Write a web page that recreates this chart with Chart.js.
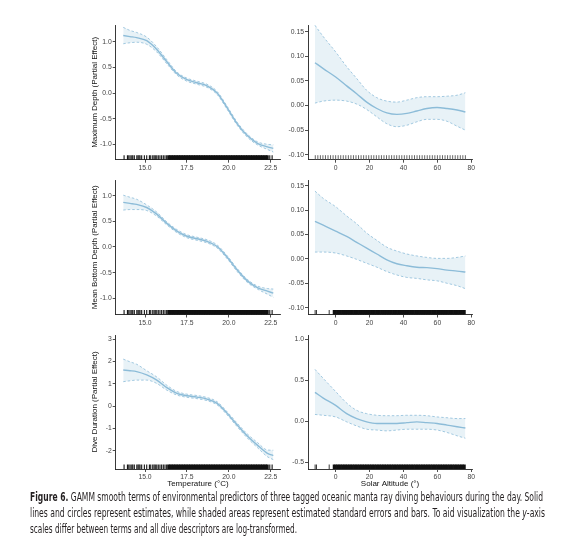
<!DOCTYPE html>
<html><head><meta charset="utf-8">
<script src="https://cdn.jsdelivr.net/npm/chart.js@4.4.1/dist/chart.umd.min.js"></script>
<style>
html,body{margin:0;padding:0;background:#fff;width:564px;height:547px;overflow:hidden;position:relative;}
canvas{position:absolute;}
.cap{position:absolute;left:30px;white-space:nowrap;font-family:"Liberation Sans Narrow","DejaVu Sans Condensed","Liberation Sans",sans-serif;font-size:11.5px;line-height:14px;color:#231f20;transform-origin:0 0;}
</style></head><body>
<canvas id="p1"></canvas><canvas id="p2"></canvas>
<canvas id="p3"></canvas><canvas id="p4"></canvas>
<canvas id="p5"></canvas><canvas id="p6"></canvas>
<div class="cap" id="l1" style="top:490px"><b>Figure 6.</b> GAMM smooth terms of environmental predictors of three tagged oceanic manta ray diving behaviours during the day. Solid</div>
<div class="cap" id="l2" style="top:506px">lines and circles represent estimates, while shaded areas represent estimated standard errors and bars. To aid visualization the <i>y</i>-axis</div>
<div class="cap" id="l3" style="top:522px">scales differ between terms and all dive descriptors are log-transformed.</div>
<script>
// ---------- data ----------
const temperature = [13.7, 14.1, 14.5, 15.1, 15.7, 16.3, 16.9, 17.5, 18.1, 18.7, 19.3, 19.9, 20.5, 21.1, 21.7, 22.3, 22.65];
const maxDepthTempFit   = [1.12, 1.10, 1.08, 1.02, 0.85, 0.61, 0.38, 0.26, 0.20, 0.14, 0.00, -0.29, -0.60, -0.83, -0.98, -1.05, -1.08];
const maxDepthTempUpper = [1.28, 1.22, 1.18, 1.09, 0.90, 0.65, 0.41, 0.29, 0.23, 0.17, 0.03, -0.26, -0.57, -0.80, -0.95, -1.00, -1.01];
const maxDepthTempLower = [0.96, 0.98, 0.99, 0.95, 0.80, 0.57, 0.35, 0.23, 0.17, 0.11, -0.03, -0.32, -0.63, -0.86, -1.01, -1.10, -1.15];
const bottomDepthTempFit   = [0.87, 0.85, 0.83, 0.77, 0.64, 0.46, 0.31, 0.21, 0.16, 0.11, 0.01, -0.20, -0.45, -0.66, -0.79, -0.86, -0.90];
const bottomDepthTempUpper = [1.01, 0.97, 0.93, 0.82, 0.68, 0.49, 0.34, 0.24, 0.19, 0.14, 0.04, -0.17, -0.42, -0.63, -0.76, -0.81, -0.82];
const bottomDepthTempLower = [0.72, 0.73, 0.73, 0.71, 0.60, 0.43, 0.28, 0.18, 0.13, 0.08, -0.02, -0.23, -0.48, -0.69, -0.82, -0.92, -0.98];
const durationTempFit   = [1.61, 1.58, 1.54, 1.39, 1.16, 0.82, 0.57, 0.46, 0.40, 0.31, 0.12, -0.33, -0.85, -1.34, -1.75, -2.12, -2.22];
const durationTempUpper = [2.10, 1.98, 1.87, 1.58, 1.30, 0.93, 0.65, 0.53, 0.47, 0.38, 0.19, -0.26, -0.77, -1.25, -1.63, -1.97, -1.98];
const durationTempLower = [1.09, 1.13, 1.16, 1.16, 1.01, 0.71, 0.49, 0.39, 0.33, 0.24, 0.05, -0.40, -0.93, -1.43, -1.86, -2.27, -2.40];

const solarAltitude = [-12.2, -7.3, 0, 6.5, 12.4, 18.3, 24.3, 30.2, 36.1, 42, 47.9, 53.8, 59.8, 65.7, 71.6, 76.5];
const maxDepthAltFit   = [0.087, 0.075, 0.058, 0.040, 0.024, 0.007, -0.006, -0.015, -0.018, -0.016, -0.011, -0.006, -0.004, -0.006, -0.009, -0.013];
const maxDepthAltUpper = [0.163, 0.140, 0.109, 0.079, 0.055, 0.031, 0.016, 0.009, 0.007, 0.011, 0.016, 0.018, 0.018, 0.019, 0.021, 0.026];
const maxDepthAltLower = [0.005, 0.009, 0.011, 0.009, 0.003, -0.008, -0.023, -0.037, -0.043, -0.040, -0.033, -0.028, -0.028, -0.032, -0.042, -0.050];
const bottomDepthAltFit   = [0.077, 0.069, 0.057, 0.046, 0.034, 0.022, 0.010, -0.002, -0.010, -0.014, -0.017, -0.018, -0.020, -0.023, -0.025, -0.027];
const bottomDepthAltUpper = [0.139, 0.124, 0.107, 0.088, 0.072, 0.053, 0.038, 0.024, 0.016, 0.010, 0.006, 0.003, 0.001, 0.001, 0.003, 0.006];
const bottomDepthAltLower = [0.014, 0.014, 0.012, 0.006, -0.001, -0.009, -0.017, -0.026, -0.033, -0.038, -0.040, -0.043, -0.045, -0.050, -0.055, -0.061];
const durationAltFit   = [0.35, 0.28, 0.19, 0.09, 0.03, -0.01, -0.03, -0.03, -0.03, -0.02, -0.01, -0.02, -0.03, -0.05, -0.07, -0.085];
const durationAltUpper = [0.63, 0.52, 0.36, 0.22, 0.13, 0.09, 0.07, 0.065, 0.065, 0.07, 0.07, 0.065, 0.05, 0.04, 0.03, 0.03];
const durationAltLower = [0.08, 0.07, 0.05, -0.01, -0.06, -0.10, -0.11, -0.12, -0.11, -0.10, -0.10, -0.10, -0.11, -0.14, -0.18, -0.21];

// rug observations
const temperatureRugSparse = [13.75, 13.95, 14.03, 14.11, 14.21, 14.27, 14.36, 14.51, 14.58, 14.64, 14.7, 14.8, 14.96, 15.1, 15.26, 15.34, 15.46, 15.54, 15.61, 15.7, 15.79, 15.89, 15.99, 16.09, 16.19, 16.29, 22.44, 22.58];
const temperatureRugDense = [16.4, 16.5, 16.6, 16.7, 16.8, 16.9, 17.0, 17.1, 17.2, 17.3, 17.4, 17.5, 17.6, 17.7, 17.8, 17.9, 18.0, 18.1, 18.2, 18.3, 18.4, 18.5, 18.6, 18.7, 18.8, 18.9, 19.0, 19.1, 19.2, 19.3,
  19.4, 19.5, 19.6, 19.7, 19.8, 19.9, 20.0, 20.1, 20.2, 20.3, 20.4, 20.5, 20.6, 20.7, 20.8, 20.9, 21.0, 21.1, 21.2, 21.3, 21.4, 21.5, 21.6, 21.7, 21.8, 21.9, 22.0, 22.1, 22.2, 22.3];
const solarAltitudeRugMaxDepth = [-12, -10.5, -9, -7.5, -6, -4.5, -3, -1.5, 0, 1.5, 3, 4.5, 6, 7.5, 9, 10.5, 12, 13.5, 15, 16.5, 18, 19.5, 21, 22.5, 24, 25.5, 27, 28.5, 30, 31.5,
  33, 34.5, 36, 37.5, 39, 40.5, 42, 43.5, 45, 46.5, 48, 49.5, 51, 52.5, 54, 55.5, 57, 58.5, 60, 61.5, 63, 64.5, 66, 67.5, 69, 70.5, 72, 73.5, 75, 76.5];
const solarAltitudeRugSparse = [-12.1, -11.3, -3.8];
const solarAltitudeRugDense = [-1, 0, 1, 2, 3, 4, 5, 6, 7, 8, 9, 10, 11, 12, 13, 14, 15, 16, 17, 18, 19, 20, 21, 22, 23, 24, 25, 26, 27, 28, 29, 30, 31, 32, 33, 34, 35,
  36, 37, 38, 39, 40, 41, 42, 43, 44, 45, 46, 47, 48, 49, 50, 51, 52, 53, 54, 55, 56, 57, 58, 59, 60, 61, 62, 63, 64, 65, 66, 67, 68, 69, 70, 71, 72, 73, 74, 75, 76];

// axis ticks
const temperatureTicks = [15.0, 17.5, 20.0, 22.5];
const temperatureTickLabels = ["15.0", "17.5", "20.0", "22.5"];
const altitudeTicks = [0, 20, 40, 60, 80];
const altitudeTickLabels = ["0", "20", "40", "60", "80"];
const depthTicks = [-1.0, -0.5, 0.0, 0.5, 1.0];
const depthTickLabels = ["-1.0", "-0.5", "0.0", "0.5", "1.0"];
const durationTicks = [-2, -1, 0, 1, 2, 3];
const durationTickLabels = ["-2", "-1", "0", "1", "2", "3"];
const smallTicks = [-0.10, -0.05, 0.00, 0.05, 0.10, 0.15];
const smallTickLabels = ["-0.10", "-0.05", "0.00", "0.05", "0.10", "0.15"];
const durAltTicks = [-0.5, 0.0, 0.5, 1.0];
const durAltTickLabels = ["-0.5", "0.0", "0.5", "1.0"];

const yTitles = ["Maximum Depth (Partial Effect)", "Mean Bottom Depth (Partial Effect)", "Dive Duration (Partial Effect)"];
const xTitles = ["Temperature (\u00B0C)", "Solar Altitude (\u00B0)"];

// ---------- styling / layout ----------
const LINE = '#8dbcd9';
const FILL = 'rgba(141,188,217,0.2)';
const AXIS = '#222';
const TICKTXT = '#444';
const FONT = '"Liberation Sans Narrow","Liberation Sans",Arial,sans-serif';

const cols = [{cL: 56, pL: 115.7, pR: 280, cR: 292}, {cL: 282, pL: 308, pR: 472, cR: 486}];
const rows = [{cT: 15, pT: 25, pB: 159.7, cB: 176}, {cT: 172, pT: 180, pB: 314.5, cB: 330}, {cT: 327, pT: 335, pB: 469, cB: 492}];

function pts(xs, ys) { return ys.map((v, i) => ({x: xs[i], y: v})); }

function rugSet(values, yMin, color, width) {
  return {type: 'scatter', data: values.map(v => ({x: v, y: yMin})), pointStyle: 'line', pointRotation: 90, pointRadius: 4.5,
    pointBorderColor: color, pointBorderWidth: width, borderColor: color, borderWidth: width, backgroundColor: color, clip: 0};
}

function makePanel(id, col, row, cfg) {
  const c = cols[col], r = rows[row];
  const cv = document.getElementById(id);
  const W = c.cR - c.cL, H = r.cB - r.cT;
  cv.style.left = c.cL + 'px'; cv.style.top = r.cT + 'px';
  cv.width = W; cv.height = H;
  cv.style.width = W + 'px'; cv.style.height = H + 'px';
  const tickFont = {family: FONT, size: 6.8};
  const titleFont = {family: FONT, size: 8};
  const datasets = [
    {data: pts(cfg.xs, cfg.upper), borderColor: LINE, borderWidth: 0.8, borderDash: [2.5, 2], backgroundColor: FILL, fill: '+1', pointRadius: 0, cubicInterpolationMode: 'monotone'},
    {data: pts(cfg.xs, cfg.lower), borderColor: LINE, borderWidth: 0.8, borderDash: [2.5, 2], fill: false, pointRadius: 0, cubicInterpolationMode: 'monotone'},
    {data: pts(cfg.xs, cfg.fit), borderColor: LINE, borderWidth: 1.4, fill: false, pointRadius: 0, cubicInterpolationMode: 'monotone'}
  ];
  cfg.rugs.forEach(rg => datasets.push(rugSet(rg.values, cfg.yMin, rg.color, rg.width)));
  new Chart(cv, {
    type: 'line',
    data: {datasets},
    options: {
      responsive: false, animation: false,
      layout: {padding: {left: 0, top: r.pT - r.cT, right: c.cR - c.pR, bottom: 0}},
      plugins: {legend: {display: false}, tooltip: {enabled: false}},
      events: [],
      scales: {
        x: {type: 'linear', min: cfg.xMin, max: cfg.xMax,
          afterBuildTicks: s => { s.ticks = cfg.xTicks.map(v => ({value: v})); },
          afterFit: s => { s.height = r.cB - r.pB; },
          ticks: {font: tickFont, color: TICKTXT, padding: 1.5, maxRotation: 0, autoSkip: false, callback: (v, i) => cfg.xLabels[i]},
          grid: {display: true, drawOnChartArea: false, drawTicks: true, tickLength: 3, color: AXIS, tickColor: AXIS, lineWidth: 0.8},
          border: {display: true, color: AXIS, width: 0.9},
          title: {display: !!cfg.xTitle, text: cfg.xTitle || '', font: titleFont, color: '#111', padding: {top: 0, bottom: 3.5}}
        },
        y: {type: 'linear', min: cfg.yMin, max: cfg.yMax,
          afterBuildTicks: s => { s.ticks = cfg.yTicks.map(v => ({value: v})); },
          afterFit: s => { s.width = c.pL - c.cL; },
          ticks: {font: tickFont, color: TICKTXT, padding: 1, autoSkip: false, callback: (v, i) => cfg.yLabels[i]},
          grid: {display: true, drawOnChartArea: false, drawTicks: true, tickLength: 3, color: AXIS, tickColor: AXIS, lineWidth: 0.8},
          border: {display: true, color: AXIS, width: 0.9},
          title: {display: !!cfg.yTitle, text: cfg.yTitle || '', font: titleFont, color: '#111', padding: {top: 33.5, bottom: 0}}
        }
      }
    }
  });
}

const tempRugs = [{values: temperatureRugSparse, color: '#111', width: 1.1}, {values: temperatureRugDense, color: '#111', width: 2.6}];
const altRugs = [{values: solarAltitudeRugSparse, color: '#222', width: 0.9}, {values: solarAltitudeRugDense, color: '#111', width: 2.4}];
const tempX = {xs: temperature, xMin: 13.25, xMax: 23.05, xTicks: temperatureTicks, xLabels: temperatureTickLabels, rugs: tempRugs};
const altX = {xs: solarAltitude, xMin: -16.3, xMax: 80.4, xTicks: altitudeTicks, xLabels: altitudeTickLabels, rugs: altRugs};

makePanel('p1', 0, 0, Object.assign({}, tempX, {fit: maxDepthTempFit, upper: maxDepthTempUpper, lower: maxDepthTempLower, yMin: -1.30, yMax: 1.326, yTicks: depthTicks, yLabels: depthTickLabels, yTitle: yTitles[0]}));
makePanel('p2', 1, 0, Object.assign({}, altX, {fit: maxDepthAltFit, upper: maxDepthAltUpper, lower: maxDepthAltLower, yMin: -0.110, yMax: 0.1636, yTicks: smallTicks, yLabels: smallTickLabels, rugs: [{values: solarAltitudeRugMaxDepth, color: '#555', width: 0.9}]}));
makePanel('p3', 0, 1, Object.assign({}, tempX, {fit: bottomDepthTempFit, upper: bottomDepthTempUpper, lower: bottomDepthTempLower, yMin: -1.316, yMax: 1.306, yTicks: depthTicks, yLabels: depthTickLabels, yTitle: yTitles[1]}));
makePanel('p4', 1, 1, Object.assign({}, altX, {fit: bottomDepthAltFit, upper: bottomDepthAltUpper, lower: bottomDepthAltLower, yMin: -0.114, yMax: 0.1617, yTicks: smallTicks, yLabels: smallTickLabels}));
makePanel('p5', 0, 2, Object.assign({}, tempX, {fit: durationTempFit, upper: durationTempUpper, lower: durationTempLower, yMin: -2.82, yMax: 3.18, yTicks: durationTicks, yLabels: durationTickLabels, yTitle: yTitles[2], xTitle: xTitles[0]}));
makePanel('p6', 1, 2, Object.assign({}, altX, {fit: durationAltFit, upper: durationAltUpper, lower: durationAltLower, yMin: -0.585, yMax: 1.049, yTicks: durAltTicks, yLabels: durAltTickLabels, xTitle: xTitles[1]}));

// caption line fitting
const capWidths = {l1: 513, l2: 515, l3: 267};
function fitCaption() {
  for (const id in capWidths) {
    const el = document.getElementById(id);
    el.style.transform = 'none';
    const w = el.getBoundingClientRect().width;
    el.style.transform = 'scaleX(' + (capWidths[id] / w) + ')';
  }
}
fitCaption();
if (document.fonts && document.fonts.ready) document.fonts.ready.then(fitCaption);
</script>
</body></html>
